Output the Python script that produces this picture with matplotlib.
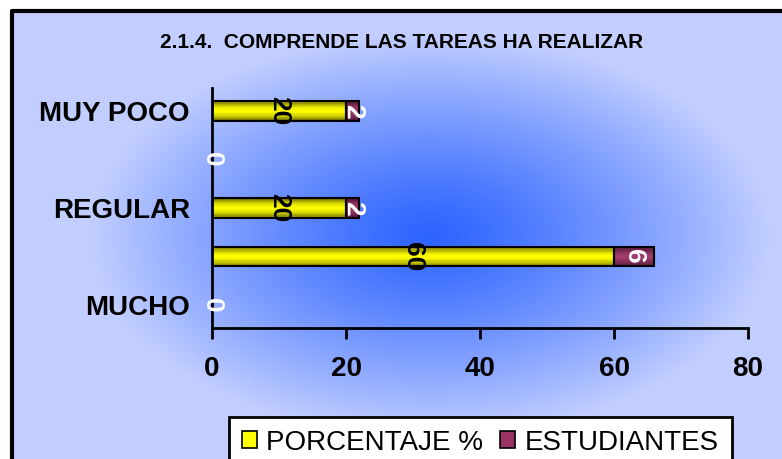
import numpy as np
import matplotlib
matplotlib.use("Agg")
import matplotlib.pyplot as plt
from matplotlib.patches import Patch

plt.rcParams['font.family'] = ['Liberation Sans', 'DejaVu Sans']

# data
categories = ["MUCHO", "BASTANTE", "REGULAR", "POCO", "MUY POCO"]
porcentaje = [0, 60, 20, 0, 20]
estudiantes = [0, 6, 2, 0, 2]
x_ticks = [0, 20, 40, 60, 80]
title = "2.1.4.  COMPRENDE LAS TAREAS HA REALIZAR"

W, H = 782, 459
fig = plt.figure(figsize=(W / 100, H / 100), dpi=100)
fig.patch.set_facecolor("white")

# background: radial blue gradient inside a black frame
bg = fig.add_axes([0, 0, 1, 1], zorder=-5)
yy, xx = np.mgrid[0:H, 0:W]
d = np.sqrt(((xx - 430) / 340.0) ** 2 + ((yy - 235) / 200.0) ** 2)
s = np.clip(d, 0, 1) ** 1.2
c_in = np.array([45, 100, 255]) / 255.0
c_out = np.array([194, 206, 255]) / 255.0
img = c_in[None, None, :] * (1 - s[..., None]) + c_out[None, None, :] * s[..., None]
img[:10, :, :] = 1.0
img[:, :11, :] = 1.0
bg.imshow(img, extent=(0, W, H, 0), aspect="auto", interpolation="bilinear")
bg.plot([12, 12, W], [H, 11, 11], color="black", lw=3, solid_capstyle="butt")
bg.set_xlim(0, W)
bg.set_ylim(H, 0)
bg.axis("off")

ax = fig.add_axes([212 / W, 1 - 328 / H, (748 - 212) / W, (328 - 88) / H])
ax.patch.set_alpha(0)

y = np.arange(len(categories))
h = 0.40
left2 = np.array(porcentaje)


def shaded_barh(values, left, dark, bright, n=16):
    # bar body drawn as thin horizontal strips, dark at the edges, bright in the middle
    dark = np.array(matplotlib.colors.to_rgb(dark))
    bright = np.array(matplotlib.colors.to_rgb(bright))
    for j in range(n):
        t = (j + 0.5) / n
        k = 1 - abs(2 * t - 1) ** 1.6
        col = dark * (1 - k) + bright * k
        ax.barh(y - h / 2 + (j + 0.5) * h / n, values, left=left, height=h / n * 1.02,
                color=col, lw=0, zorder=2)
    ax.barh(y, values, left=left, height=h, facecolor="none", edgecolor="black",
            lw=1.5, zorder=3)


shaded_barh(porcentaje, 0, "#6e6e00", "#ffff00")
shaded_barh(estudiantes, left2, "#4e1430", "#a03c6c")

for i in range(len(categories)):
    if porcentaje[i] > 0:
        ax.text(porcentaje[i] / 2, y[i], str(porcentaje[i]), rotation=-90, ha="center",
                va="center", fontsize=19, fontweight="bold", color="black", zorder=5)
    xs = porcentaje[i] + estudiantes[i] / 2
    ax.text(xs, y[i], str(estudiantes[i]), rotation=-90, ha="center", va="center",
            fontsize=19, fontweight="bold", color="white", zorder=5)

ax.set_xlim(0, 80)
ax.set_ylim(-0.47, 4.47)
ax.set_xticks(x_ticks)
ax.set_xticklabels([str(v) for v in x_ticks], fontsize=20, fontweight="bold")
ax.set_yticks(y[::2])
ax.set_yticklabels(categories[::2], fontsize=20, fontweight="bold")
ax.tick_params(axis="y", length=0, pad=16)
ax.tick_params(axis="x", length=8, width=2, direction="out", pad=12)
for side in ["top", "right"]:
    ax.spines[side].set_visible(False)
for side in ["left", "bottom"]:
    ax.spines[side].set_linewidth(2)

fig.text(0.513, 0.908, title, ha="center", va="center", fontsize=15, fontweight="bold")

handles = [Patch(facecolor="#ffff00", edgecolor="black", lw=1.2, label="PORCENTAJE %"),
           Patch(facecolor="#993366", edgecolor="black", lw=1.2, label="ESTUDIANTES")]
leg = fig.legend(handles=handles, loc="upper left", bbox_to_anchor=(229 / W, 1 - 417 / H),
                 ncol=2, fontsize=20, frameon=True, fancybox=False, borderpad=0.45,
                 handlelength=0.55, handleheight=0.55, handletextpad=0.35, columnspacing=0.6,
                 borderaxespad=0)
leg.get_frame().set_edgecolor("black")
leg.get_frame().set_linewidth(2)
leg.get_frame().set_facecolor("white")
leg.get_frame().set_alpha(1)

fig.savefig("out.png", dpi=100)
